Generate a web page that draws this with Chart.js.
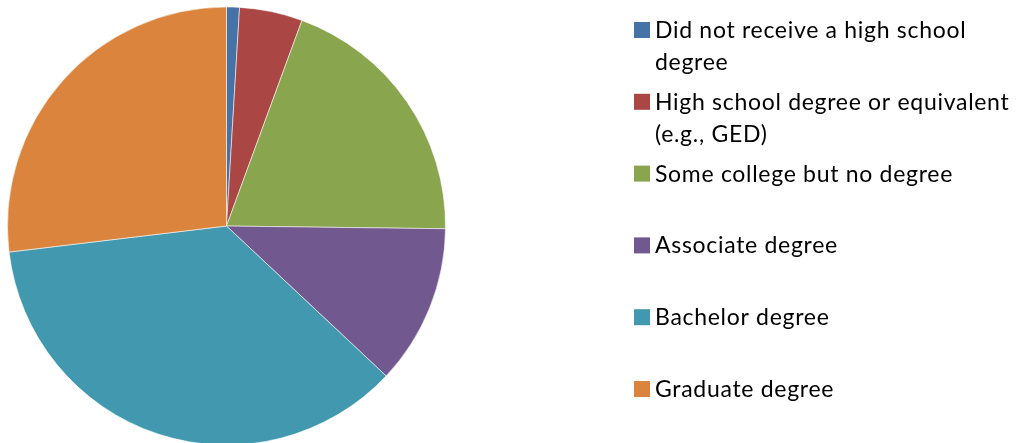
<!DOCTYPE html>
<html lang="en">
<head>
    <meta charset="UTF-8">
    <title>Education Level</title>
    <script src="https://cdn.jsdelivr.net/npm/chart.js"></script>
    <style>
        html, body {
            margin: 0;
            padding: 0;
            background: #fff;
            overflow: hidden;
        }

        #wrap {
            position: relative;
            width: 1016px;
            height: 460px;
        }
    </style>
</head>
<body>
    <div id="wrap">
        <canvas id="pieChart"></canvas>
    </div>

    <script>
// categories (multi-line labels as shown in the legend)
const categories = [
    ['Did not receive a high school', 'degree'],
    ['High school degree or equivalent', '(e.g., GED)'],
    ['Some college but no degree'],
    ['Associate degree'],
    ['Bachelor degree'],
    ['Graduate degree']
];

// share of respondents, percent
const shares = [0.95, 4.65, 19.6, 11.8, 36.1, 26.9];

const sliceColors = ['#4572A7', '#AA4643', '#89A54E', '#71588F', '#4198AF', '#DB843D'];

// simple legend drawn on the right side of the canvas
const sideLegend = {
    id: 'sideLegend',
    afterDraw(chart) {
        const ctx = chart.ctx;
        const labels = chart.data.labels;
        const colors = chart.data.datasets[0].backgroundColor;
        ctx.save();
        ctx.font = '23px Lato';
        ctx.letterSpacing = '0.7px';
        ctx.textBaseline = 'alphabetic';
        ctx.textAlign = 'left';
        for (let i = 0; i < labels.length; i++) {
            const base = 38 + i * 71.8;
            ctx.fillStyle = colors[i];
            ctx.fillRect(634, base - 16, 16, 16);
            ctx.fillStyle = '#000';
            labels[i].forEach((line, j) => {
                ctx.fillText(line, 655, base + j * 32);
            });
        }
        ctx.restore();
    }
};

const ctx = document.getElementById('pieChart').getContext('2d');
const chart = new Chart(ctx, {
    type: 'pie',
    data: {
        labels: categories,
        datasets: [{
            data: shares,
            backgroundColor: sliceColors,
            borderColor: 'rgba(255,255,255,0.55)',
            borderWidth: 1
        }]
    },
    options: {
        responsive: true,
        maintainAspectRatio: false,
        animation: false,
        layout: {
            padding: { left: 7, top: 6.5, right: 570, bottom: 14.5 }
        },
        plugins: {
            legend: { display: false },
            tooltip: { enabled: false }
        }
    },
    plugins: [sideLegend]
});
    </script>
</body>
</html>
